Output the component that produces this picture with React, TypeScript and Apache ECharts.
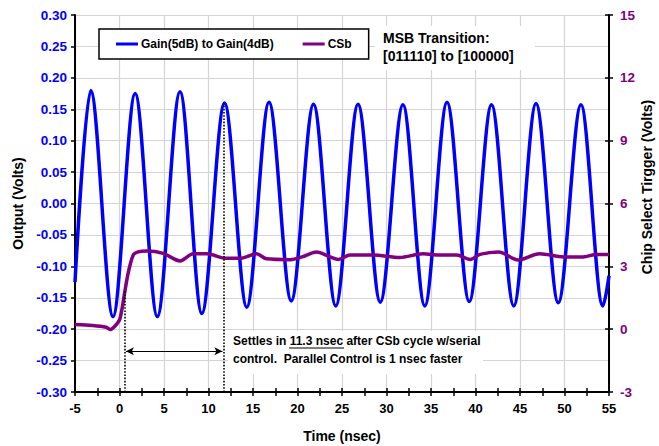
import React, { useEffect, useRef } from "react";
import * as echarts from "echarts";

// Blue trace: extrema (peaks / troughs), plus the edge values
const blueTimes = [-5, -3.24, -0.73, 1.76, 4.25, 6.8, 9.25, 11.8, 14.3, 16.8, 19.3, 21.8, 24.3, 26.8, 29.3, 31.85, 34.3, 36.8, 39.3, 41.8, 44.3, 46.8, 49.3, 51.85, 54.3, 55];
const blueValues = [-0.125, 0.18, -0.18, 0.175, -0.18, 0.178, -0.175, 0.16, -0.165, 0.161, -0.155, 0.158, -0.163, 0.158, -0.157, 0.157, -0.163, 0.161, -0.156, 0.157, -0.163, 0.159, -0.158, 0.157, -0.163, -0.115];

// CSb trace (right axis, volts)
const csbTimes = [-5, -3, -1.5, -1.05, -0.5, 0.05, 0.6, 1.0, 1.55, 2.1, 3.05, 4.9, 6.8, 8.3, 9.8, 12.0, 13.5, 15.4, 16.5, 19.2, 20.5, 22.15, 23.65, 24.6, 25.9, 28.5, 31.5, 34.1, 36.0, 37.9, 39.4, 40.5, 42.6, 44.8, 47.2, 49.9, 52.1, 53.6, 55];
const csbValues = [0.22, 0.18, 0.09, -0.02, 0.15, 0.5, 1.8, 2.73, 3.54, 3.69, 3.73, 3.62, 3.26, 3.6, 3.6, 3.38, 3.38, 3.6, 3.36, 3.32, 3.45, 3.69, 3.45, 3.33, 3.54, 3.54, 3.42, 3.6, 3.54, 3.54, 3.33, 3.57, 3.69, 3.3, 3.6, 3.45, 3.45, 3.57, 3.57];

const seriesNames = ["Gain(5dB) to Gain(4dB)", "CSb"];
const rightAxisName = "Chip Select Tirgger (Volts)";

// Settling annotation (x in nsec, y in output volts)
const settleStart = 0.62;
const settleStartTop = -0.137;
const settleEnd = 11.66;
const settleEndTop = 0.16;
const arrowLevel = -0.235;

const FONT = "'Liberation Sans', Arial, Helvetica, sans-serif";
const BLUE = "#0000FF";
const PURPLE = "#800080";
const GRID = "#d4d4d4";

export default function App() {
  const ref = useRef<HTMLDivElement>(null);
  useEffect(() => {
    document.body.style.margin = "0";
    const chart = echarts.init(ref.current!, null, { renderer: "svg" });
    const blueData = blueTimes.map((t, i) => [t, blueValues[i]]);
    const csbData = csbTimes.map((t, i) => [t, csbValues[i]]);
    const xCommon = { type: "value", min: -5, max: 55, interval: 5 } as any;
    const Z = 100;
    const option: any = {
      animation: false,
      backgroundColor: "#fff",
      grid: { left: 75, right: 50, top: 15, bottom: 54, containLabel: false, outerBoundsMode: "none" },
      legend: {
        data: seriesNames,
        left: 99,
        top: 29,
        orient: "horizontal",
        padding: [9, 17, 9, 17],
        itemGap: 29,
        itemWidth: 22,
        itemHeight: 3,
        icon: "rect",
        borderColor: "#000",
        borderWidth: 1.5,
        backgroundColor: "#fff",
        textStyle: { fontFamily: FONT, fontWeight: "bold", fontSize: 12, color: "#000", padding: [0, 0, 0, -2] },
        z: 20,
      },
      xAxis: [
        {
          ...xCommon,
          position: "bottom",
          axisLine: { show: true, onZero: false, lineStyle: { color: "#000", width: 2 } },
          axisTick: { show: true, inside: false, length: 4, lineStyle: { color: "#000", width: 1.5 } },
          minorTick: { show: true, splitNumber: 2, length: 4, lineStyle: { color: "#000", width: 1.5 } },
          axisLabel: { fontFamily: FONT, fontWeight: "bold", fontSize: 13, color: "#000", margin: 10 },
          splitLine: { show: true, lineStyle: { color: GRID, width: 1.2 } },
          name: "Time (nsec)",
          nameLocation: "middle",
          nameGap: 37,
          nameTextStyle: { fontFamily: FONT, fontWeight: "bold", fontSize: 14, color: "#000" },
        },
        {
          ...xCommon,
          position: "bottom",
          axisLine: { show: false, onZero: false },
          axisTick: { show: true, inside: true, length: 4, lineStyle: { color: "#000", width: 1.5 } },
          minorTick: { show: true, splitNumber: 2, length: 4, lineStyle: { color: "#000", width: 1.5 } },
          axisLabel: { show: false },
          splitLine: { show: false },
        },
      ],
      yAxis: [
        {
          type: "value",
          position: "left",
          min: -0.3,
          max: 0.3,
          interval: 0.05,
          axisLine: { show: true, onZero: false, lineStyle: { color: "#000", width: 2 } },
          axisTick: { show: true, length: 4, lineStyle: { color: "#000", width: 1.5 } },
          axisLabel: {
            fontFamily: FONT, fontWeight: "bold", fontSize: 13.5, color: BLUE, margin: 8,
            formatter: (v: number) => v.toFixed(2),
          },
          splitLine: { show: true, lineStyle: { color: GRID, width: 1.2 } },
          name: "Output (Volts)",
          nameLocation: "middle",
          nameRotate: 90,
          nameGap: 50,
          nameTextStyle: { fontFamily: FONT, fontWeight: "bold", fontSize: 14, color: "#000" },
        },
        {
          type: "value",
          position: "right",
          min: -3,
          max: 15,
          interval: 3,
          axisLine: { show: true, onZero: false, lineStyle: { color: "#000", width: 2 } },
          axisTick: { show: true, length: 4, lineStyle: { color: "#000", width: 1.5 } },
          axisLabel: { fontFamily: FONT, fontWeight: "bold", fontSize: 13.5, color: PURPLE, margin: 11 },
          splitLine: { show: false },
        },
        {
          type: "value",
          position: "right",
          min: -3,
          max: 15,
          interval: 3,
          axisLine: { show: false, onZero: false },
          axisTick: { show: true, inside: true, length: 4, lineStyle: { color: "#000", width: 1.5 } },
          axisLabel: { show: false },
          splitLine: { show: false },
        },
      ],
      series: [
        {
          name: seriesNames[0],
          type: "line",
          xAxisIndex: 0,
          yAxisIndex: 0,
          data: blueData,
          showSymbol: false,
          smooth: 0.33,
          smoothMonotone: "x",
          color: BLUE,
          lineStyle: { color: BLUE, width: 3.5 },
          z: 3,
          markLine: {
            silent: true,
            symbol: ["none", "none"],
            label: { show: false },
            lineStyle: { color: "#000", type: "dotted", width: 1.6 },
            data: [
              [{ coord: [settleStart, -0.3] }, { coord: [settleStart, settleStartTop] }],
              [{ coord: [settleEnd, -0.3] }, { coord: [settleEnd, settleEndTop] }],
              [
                { coord: [settleStart + 0.1, arrowLevel], symbol: "arrow", symbolSize: [6, 8], lineStyle: { type: "solid", width: 1.2 } },
                { coord: [settleEnd - 0.1, arrowLevel], symbol: "arrow", symbolSize: [6, 8] },
              ],
            ],
          },
        },
        {
          name: seriesNames[1],
          type: "line",
          xAxisIndex: 0,
          yAxisIndex: 1,
          data: csbData,
          showSymbol: false,
          smooth: 0.3,
          color: PURPLE,
          lineStyle: { color: PURPLE, width: 3.5 },
          z: 4,
        },
      ],
      graphic: [
        {
          type: "text", z: Z, x: 647, y: 187, rotation: Math.PI / 2,
          style: { text: rightAxisName, font: `bold 14px ${FONT}`, fill: "#000", align: "center", verticalAlign: "middle" },
        },
        { type: "rect", z: Z, shape: { x: 375, y: 26, width: 160, height: 44 }, style: { fill: "#fff" } },
        { type: "text", z: Z + 1, x: 383, y: 38, style: { text: "MSB Transition:", font: `bold 14px ${FONT}`, fill: "#000", verticalAlign: "middle" } },
        { type: "text", z: Z + 1, x: 383, y: 56, style: { text: "[011110] to [100000]", font: `bold 14px ${FONT}`, fill: "#000", verticalAlign: "middle" } },
        { type: "rect", z: Z, shape: { x: 228, y: 331, width: 255, height: 43 }, style: { fill: "#fff" } },
        { type: "text", z: Z + 1, x: 233, y: 341, style: { text: "Settles in 11.3 nsec after CSb cycle w/serial", font: `bold 12px ${FONT}`, fill: "#000", verticalAlign: "middle" } },
        { type: "text", z: Z + 1, x: 233, y: 359, style: { text: "control.  Parallel Control is 1 nsec faster", font: `bold 12px ${FONT}`, fill: "#000", verticalAlign: "middle" } },
        { type: "line", z: Z + 1, shape: { x1: 289, y1: 348, x2: 344, y2: 348 }, style: { stroke: "#000", lineWidth: 1.2 } },
      ],
    };
    chart.setOption(option);
    return () => chart.dispose();
  }, []);
  return <div ref={ref} style={{ width: 659, height: 446 }} />;
}
